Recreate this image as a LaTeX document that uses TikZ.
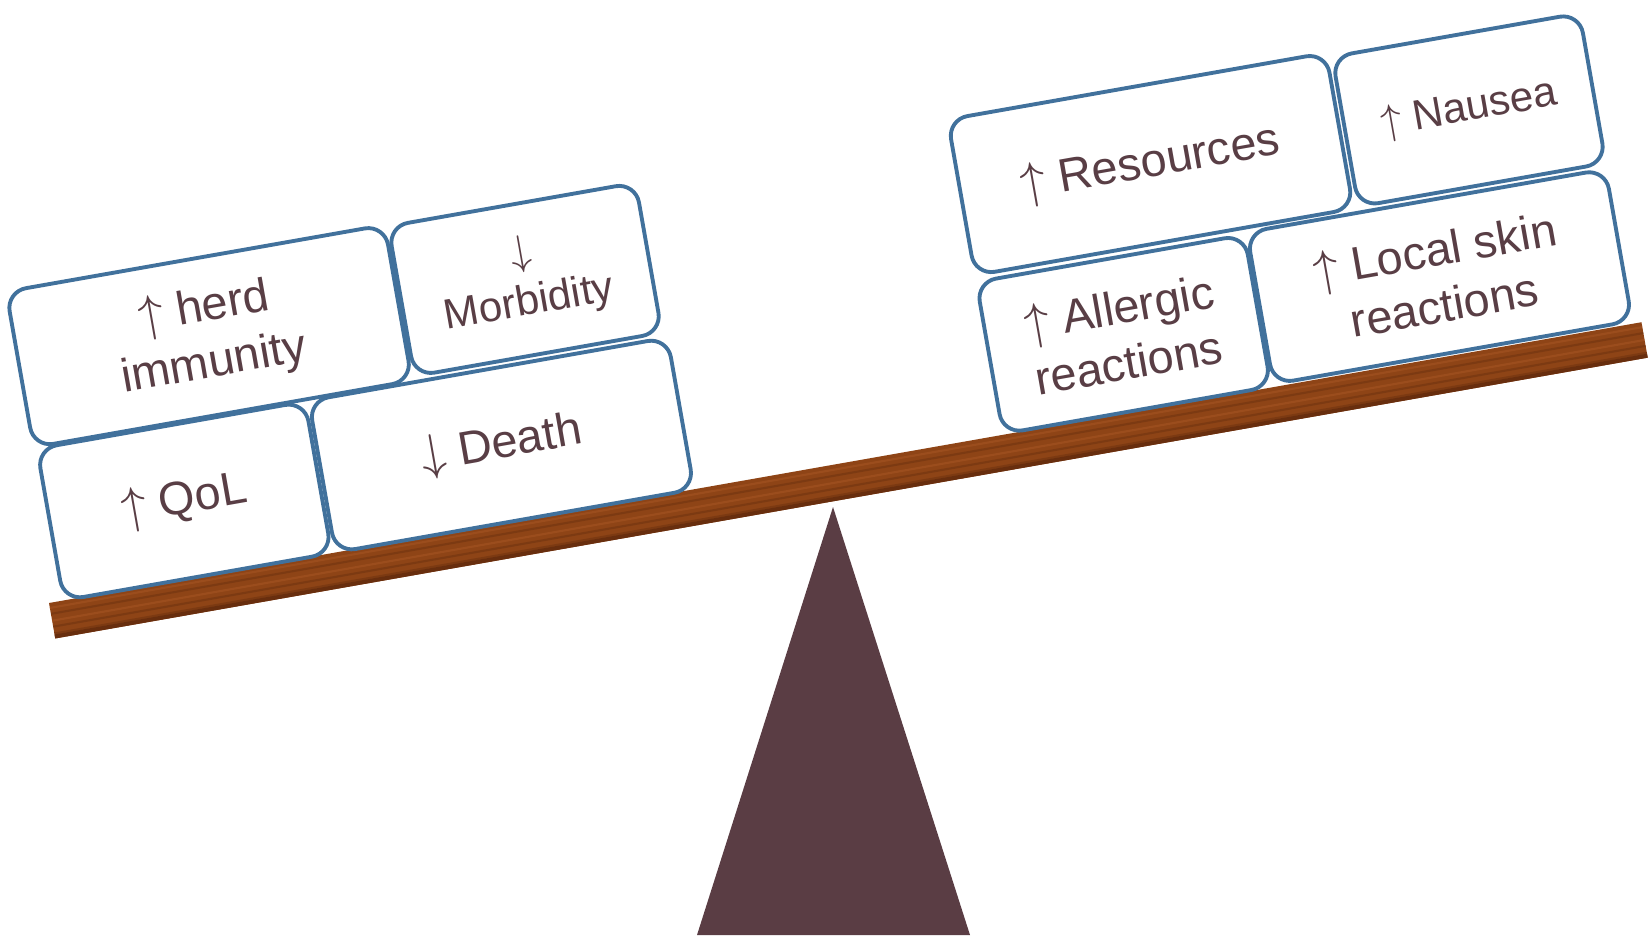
\documentclass[tikz,border=0pt]{standalone}
\usepackage{fontspec}
\setmainfont{Liberation Sans}

\definecolor{boxblue}{RGB}{65,113,156}
\definecolor{inkbrown}{RGB}{89,62,69}
\definecolor{woodbrown}{RGB}{142,68,22}
\definecolor{wooddark}{RGB}{104,46,14}
\definecolor{woodlight}{RGB}{172,90,38}
\definecolor{pivotbrown}{RGB}{90,61,68}

\begin{document}
\begin{tikzpicture}[x=0.01cm, y=-0.01cm,
		block/.style={draw=boxblue, line width=1.1pt, fill=white, rounded corners=2mm, text=inkbrown, align=center, inner sep=0pt, transform shape, font=\fontsize{13.3}{16}\selectfont},
		small/.style={block, minimum width=2.72cm, minimum height=1.54cm},
		wide/.style={block, minimum width=3.64cm, minimum height=1.54cm},
		big/.style={block, minimum width=3.84cm, minimum height=1.58cm},
		narrow/.style={block, minimum width=2.51cm, minimum height=1.52cm, font=\fontsize{12}{14.5}\selectfont},
		grain/.style={line width=0.6pt, opacity=0.45}]
		\useasboundingbox (0,0) rectangle (1652,939);

		% fulcrum
		\coordinate (apex) at (833,507);
		\fill[pivotbrown] (apex) -- (970,935) -- (697,935) -- cycle;

		\begin{scope}[shift={(49,603)}, rotate=10]
			% plank
			\fill[woodbrown] (0,0) rectangle (1617,36);
			\foreach \v/\c in {5/woodlight, 11/wooddark, 18/woodlight, 24/wooddark, 31/wooddark}
				\draw[grain, \c] (0,\v) -- (1617,\v);
			\fill[wooddark] (0,32) rectangle (1617,36);

			% benefits
			\node[small] (qol) at (151,-77) {$\uparrow$ QoL};
			\node[wide] (death) at (473,-77) {$\downarrow$ Death};
			\node[big] (herd) at (204,-235) {$\uparrow$ herd\\immunity};
			\node[narrow] (morb) at (525,-236) {$\downarrow$\\Morbidity};

			% costs
			\node[small] (allergic) at (1105,-78) {$\uparrow$ Allergic\\reactions};
			\node[wide] (skin) at (1426,-80) {$\uparrow$ Local skin\\reactions};
			\node[big] (resources) at (1161,-241) {$\uparrow$ Resources};
			\node[narrow] (nausea) at (1484,-239) {$\uparrow$ Nausea};
		\end{scope}
	\end{tikzpicture}
\end{document}
